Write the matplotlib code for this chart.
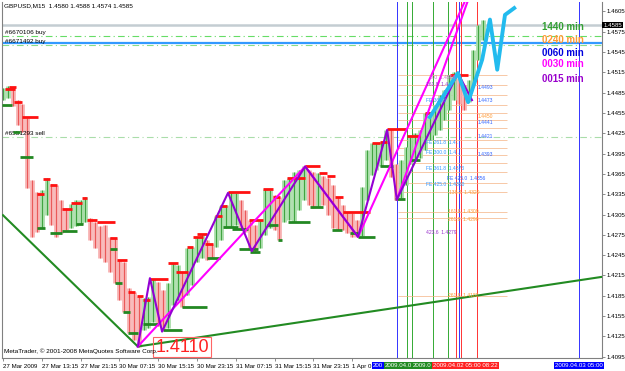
import matplotlib
matplotlib.use("Agg")
import matplotlib.pyplot as plt
import numpy as np

plt.rcParams['font.family'] = ['Liberation Sans', 'DejaVu Sans']

# GBPUSD M15, grouped per hour (x = hours from 27 Mar 05:15)
highs = [1.4492, 1.4495, 1.4492, 1.4474, 1.4468, 1.4448, 1.4356, 1.4338, 1.4341, 1.4359,
         1.4350, 1.4348, 1.4327, 1.4315, 1.4321, 1.4327, 1.4327, 1.4331, 1.4300, 1.4294,
         1.4288, 1.4290, 1.4272, 1.4270, 1.4238, 1.4235, 1.4197, 1.4191, 1.4185, 1.4182,
         1.4183, 1.4210, 1.4206, 1.4194, 1.4204, 1.4233, 1.4231, 1.4220, 1.4256, 1.4257,
         1.4272, 1.4276, 1.4267, 1.4262, 1.4303, 1.4318, 1.4319, 1.4338, 1.4337, 1.4327,
         1.4312, 1.4297, 1.4290, 1.4297, 1.4343, 1.4341, 1.4334, 1.4331, 1.4356, 1.4359,
         1.4368, 1.4371, 1.4376, 1.4371, 1.4368, 1.4367, 1.4362, 1.4359, 1.4349, 1.4331,
         1.4319, 1.4309, 1.4307, 1.4297, 1.4346, 1.4401, 1.4411, 1.4411, 1.4412, 1.4430,
         1.4432, 1.4379, 1.4386, 1.4405, 1.4420, 1.4426, 1.4430, 1.4455, 1.4452, 1.4467,
         1.4482, 1.4489, 1.4511, 1.4516, 1.4507, 1.4497, 1.4504, 1.4548, 1.4585, 1.4593]
lows = [1.4474, 1.4477, 1.4466, 1.4438, 1.4427, 1.4344, 1.4272, 1.4279, 1.4285, 1.4304,
        1.4290, 1.4272, 1.4278, 1.4282, 1.4285, 1.4288, 1.4291, 1.4294, 1.4267, 1.4256,
        1.4241, 1.4235, 1.4220, 1.4204, 1.4179, 1.4161, 1.4130, 1.4120, 1.4109, 1.4134,
        1.4137, 1.4146, 1.4140, 1.4134, 1.4137, 1.4171, 1.4179, 1.4168, 1.4186, 1.4201,
        1.4235, 1.4241, 1.4238, 1.4241, 1.4257, 1.4267, 1.4285, 1.4287, 1.4290, 1.4282,
        1.4279, 1.4253, 1.4250, 1.4256, 1.4275, 1.4285, 1.4282, 1.4267, 1.4294, 1.4297,
        1.4294, 1.4312, 1.4327, 1.4319, 1.4315, 1.4316, 1.4319, 1.4304, 1.4285, 1.4282,
        1.4282, 1.4278, 1.4272, 1.4272, 1.4273, 1.4327, 1.4364, 1.4371, 1.4376, 1.4386,
        1.4361, 1.4327, 1.4330, 1.4349, 1.4379, 1.4386, 1.4389, 1.4401, 1.4415, 1.4423,
        1.4430, 1.4445, 1.4460, 1.4474, 1.4468, 1.4460, 1.4471, 1.4497, 1.4534, 1.4563]

# fractal levels: start hour, end hour, price
red_frac = [(0.4, 2.5, 1.4491), (1.2, 2.7, 1.4494), (2.3, 3.9, 1.4471), (3.9, 7.2, 1.4449),
            (7.0, 8.5, 1.4336), (8.2, 9.7, 1.4358), (9.7, 11.1, 1.4348), (12.2, 14.2, 1.4313),
            (14.0, 16.3, 1.4322), (16.3, 17.3, 1.4330), (17.3, 19.4, 1.4297), (19.4, 23.1, 1.4294),
            (22.1, 23.5, 1.4270), (23.5, 25.6, 1.4238), (25.8, 27.2, 1.4191), (27.6, 28.9, 1.4185),
            (28.9, 30.3, 1.4179), (30.3, 34.0, 1.4210), (34.0, 36.1, 1.4233), (35.7, 38.1, 1.4220),
            (37.9, 39.2, 1.4257), (39.2, 41.2, 1.4272), (40.0, 42.1, 1.4276), (41.6, 43.3, 1.4262),
            (43.7, 45.2, 1.4303), (44.7, 46.2, 1.4318), (46.4, 50.9, 1.4338), (50.7, 53.6, 1.4297),
            (53.6, 55.7, 1.4343), (55.7, 57.1, 1.4331), (58.6, 62.3, 1.4359), (62.3, 65.4, 1.4376),
            (65.2, 66.8, 1.4367), (66.8, 68.5, 1.4362), (68.5, 70.1, 1.4331), (70.1, 75.7, 1.4309),
            (76.1, 77.7, 1.4411), (77.7, 79.2, 1.4412), (79.2, 83.3, 1.4432), (83.3, 86.0, 1.4421),
            (87.0, 88.5, 1.4455), (92.2, 95.9, 1.4511)]
green_frac = [(-0.2, 1.9, 1.4467), (2.1, 3.5, 1.4427), (3.5, 6.2, 1.4390), (7.0, 8.7, 1.4285),
              (9.7, 12.2, 1.4278), (12.2, 15.3, 1.4281), (15.1, 16.5, 1.4291), (22.1, 23.5, 1.4254),
              (23.1, 24.5, 1.4204), (24.7, 26.2, 1.4161), (25.8, 27.8, 1.4130), (28.9, 32.0, 1.4143),
              (33.0, 36.9, 1.4134), (36.9, 42.1, 1.4168), (42.1, 44.7, 1.4241), (45.4, 48.5, 1.4287),
              (47.2, 50.5, 1.4284), (48.7, 52.6, 1.4254), (50.9, 53.0, 1.4250), (54.4, 56.7, 1.4290),
              (56.7, 57.5, 1.4267), (58.8, 63.3, 1.4294), (63.3, 66.0, 1.4316), (67.8, 69.9, 1.4282),
              (71.5, 73.2, 1.4278), (73.2, 76.7, 1.4272), (77.7, 80.4, 1.4376), (80.8, 82.9, 1.4328),
              (83.9, 86.0, 1.4386)]

# zigzags / trendline
trend_h = [0, 27.8, 123.6]
trend_p = [1.4304, 1.4110, 1.4213]
mag_h = [27.8, 62.3, 73.2, 95.1]
mag_p = [1.4110, 1.4376, 1.4272, 1.4618]
mag2_h = [81.2, 95.7]
mag2_p = [1.4327, 1.4618]
pur_h = [27.8, 30.3, 32.8, 46.4, 51.3, 62.3, 73.2, 79.2, 81.2, 93.8, 96.7]
pur_p = [1.4110, 1.4211, 1.4132, 1.4337, 1.4251, 1.4376, 1.4272, 1.4430, 1.4327, 1.4514, 1.4474]
cyan_h = [88.0, 93.8, 95.9, 98.8, 100.4, 101.9, 103.5, 105.4]
cyan_p = [1.4449, 1.4514, 1.4471, 1.4534, 1.4593, 1.4519, 1.4600, 1.4610]

fib_levels = [1.4511, 1.4497, 1.4482, 1.4467, 1.4455, 1.4445, 1.4433, 1.4415, 1.4403,
              1.4393, 1.4381, 1.4368, 1.4352, 1.4338, 1.4309, 1.4300, 1.4185]
fib_text = [(88.0, 1.4508, '0.0  1.4508', '#cc66cc'), (87.3, 1.4497, '161.8  1.4..', '#9933cc'),
            (87.3, 1.4474, 'FE 361.8', '#3399ff'), (97.8, 1.4493, '1.4493', '#3366ff'),
            (97.8, 1.4473, '1.4473', '#3366ff'), (97.8, 1.4450, '1.4450', '#ff9933'),
            (97.8, 1.4441, '1.4441', '#3366ff'), (97.8, 1.4421, '1.4421', '#3366ff'),
            (87.3, 1.4411, 'FE 261.8  1.4..', '#3399ff'), (87.3, 1.4397, 'FE 300.0  1.4..', '#3399ff'),
            (97.8, 1.4393, '1.4393', '#3366ff'), (87.3, 1.4373, 'FE 361.8  1.4373', '#3399ff'),
            (87.3, 1.4350, 'FE 425.0  1.4350', '#3399ff'), (91.5, 1.4358, 'FE 425.0  1.4356', '#3366ff'),
            (92.0, 1.4338, '138.2  1.4320', '#ff9933'), (91.8, 1.4309, '161.8  1.4309', '#ff9933'),
            (91.8, 1.4298, '261.8  1.4298', '#ff9933'), (87.3, 1.4279, '423.6  1.4279', '#9933cc'),
            (91.8, 1.4185, '261.8  1.4182', '#ff9933')]

blue_vlines = [81.2, 94.0, 118.8]
green_vlines = [83.3, 84.3, 88.6, 91.8]
red_vlines = [93.3, 94.4, 97.7]

time_ticks = [0, 8, 16, 24, 32, 40, 48, 56, 64, 72]
time_labels = ['27 Mar 2009', '27 Mar 13:15', '27 Mar 21:15', '30 Mar 07:15', '30 Mar 15:15',
               '30 Mar 23:15', '31 Mar 07:15', '31 Mar 15:15', '31 Mar 23:15', '1 Apr 0']
price_ticks = [1.4095, 1.4125, 1.4155, 1.4185, 1.4215, 1.4245, 1.4275, 1.4305, 1.4335,
               1.4365, 1.4395, 1.4425, 1.4455, 1.4485, 1.4515, 1.4545, 1.4575, 1.4605]

# highlighted time labels under the vertical lines (visible parts only)
box_hours = [76.3, 78.8, 84.4, 88.7, 113.8]
box_texts = ['200', '2009.04.0', '2009.0', '2009.04.02 05:00 08:22', '2009.04.03 05:00']
box_colors = ['#0000ff', '#228b22', '#228b22', '#ff2222', '#0000ff']

tf_labels = ['1440 min', '0240 min', '0060 min', '0030 min', '0015 min']
tf_prices = [1.4582, 1.4563, 1.4544, 1.4528, 1.4505]
tf_colors = ['#33a033', '#ff9933', '#0000dd', '#ff00ff', '#9900cc']

fig = plt.figure(figsize=(6.25, 3.71), dpi=100)
ax = fig.add_axes([2 / 625, 13 / 371, 600 / 625, 356 / 371])
ax.set_xlim(-0.2, 123.5)
ax.set_ylim(1.4093, 1.4619)

# order / bid lines
ax.axhline(1.4585, color='#c4cdd2', lw=1.8, zorder=1)
ax.axhline(1.4569, color='#66dd66', lw=0.8, ls=(0, (6, 3, 1, 3)), zorder=1)
ax.axhline(1.4558, color='#3399ff', lw=1.6, zorder=1)
ax.axhline(1.4555, color='#88dd88', lw=0.8, ls=(0, (6, 3, 1, 3)), zorder=1)
ax.axhline(1.4420, color='#aaddaa', lw=0.8, ls=(0, (6, 3, 1, 3)), zorder=1)
ax.text(0.4, 1.4574, '#6670106 buy', fontsize=4.6, va='center')
ax.text(0.4, 1.4561, '#6671492 buy', fontsize=4.6, va='center')
ax.text(0.5, 1.4424, '#6551293 sell', fontsize=4.6, va='center')

for v in blue_vlines:
    ax.axvline(v, color='#3333ff', lw=0.7, zorder=1)
for v in green_vlines:
    ax.axvline(v, color='#33aa33', lw=0.7, zorder=1)
for v in red_vlines:
    ax.axvline(v, color='#ff3333', lw=0.7, zorder=1)

# fib levels
ax.hlines(fib_levels, 81.5, 104, color='#f4b283', lw=0.5, zorder=1)
for h, p, t, c in fib_text:
    ax.text(h, p, t, fontsize=3.6, color=c, va='center', zorder=6)

# candles
hours = np.arange(len(highs))
hi = np.array(highs)
lo = np.array(lows)
mid = (hi + lo) / 2
up = np.r_[True, mid[1:] >= mid[:-1]]
ax.vlines(hours, lo, hi, colors=np.where(up, '#a6dca6', '#f7b0b0'), lw=3.4, zorder=2)
ax.vlines(hours, lo, hi, colors=np.where(up, '#2e9a2e', '#e84848'), lw=0.6, zorder=2)

for a, b, p in red_frac:
    ax.hlines(p, a, b, color='#ff1111', lw=2.0, zorder=4)
for a, b, p in green_frac:
    ax.hlines(p, a, b, color='#228822', lw=2.0, zorder=4)

ax.plot(trend_h, trend_p, color='#228b22', lw=1.5, zorder=5)
ax.plot(mag_h, mag_p, color='#ff00ff', lw=1.5, zorder=5)
ax.plot(mag2_h, mag2_p, color='#ff00ff', lw=1.5, zorder=5)
ax.plot(pur_h, pur_p, color='#9400d3', lw=1.5, zorder=5)
ax.plot(cyan_h, cyan_p, color='#22bbee', lw=2.8, zorder=5)

# timeframe legend
for t, p, c in zip(tf_labels, tf_prices, tf_colors):
    ax.text(111.1, p, t, color=c, fontsize=7, fontweight='bold', va='center', zorder=7)

ax.text(36.9, 1.4109, '1.4110', color='#ff2222', fontsize=13, ha='center', va='center', zorder=7,
        bbox=dict(boxstyle='square,pad=0.1', facecolor='none', edgecolor='#ff6666', lw=0.8))
ax.text(0.004, 0.02, 'MetaTrader, \u00a9 2001-2008 MetaQuotes Software Corp.', fontsize=4.6,
        transform=ax.transAxes, va='center', zorder=7)
ax.text(0.004, 0.989, 'GBPUSD,M15  1.4580 1.4588 1.4574 1.4585', fontsize=4.6,
        transform=ax.transAxes, va='center')

# axes styling
ax.spines['top'].set_visible(False)
for s in ['left', 'right', 'bottom']:
    ax.spines[s].set_color('#808080')
    ax.spines[s].set_linewidth(0.8)
ax.yaxis.tick_right()
ax.set_yticks(price_ticks)
ax.set_yticklabels([f'{p:.4f}' for p in price_ticks])
ax.tick_params(axis='y', labelsize=4.4, length=2, width=0.5, color='#606060', pad=1.5)
ax.set_xticks(time_ticks)
ax.set_xticklabels(time_labels)
ax.tick_params(axis='x', labelsize=4.4, length=2, width=0.5, color='#606060', pad=2)
for lbl in ax.get_xticklabels():
    lbl.set_ha('left')

tr = ax.get_xaxis_transform()
for h, t, c in zip(box_hours, box_texts, box_colors):
    ax.text(h, -0.021, t, transform=tr, fontsize=4.4, color='white', va='center', clip_on=False,
            bbox=dict(boxstyle='square,pad=0.15', facecolor=c, edgecolor='none'))

ax.text(1.002, 1.4585, '1.4585', transform=ax.get_yaxis_transform(), fontsize=4.4, color='white',
        va='center', bbox=dict(boxstyle='square,pad=0.15', facecolor='black', edgecolor='none'))

fig.savefig('out.png', dpi=100)
